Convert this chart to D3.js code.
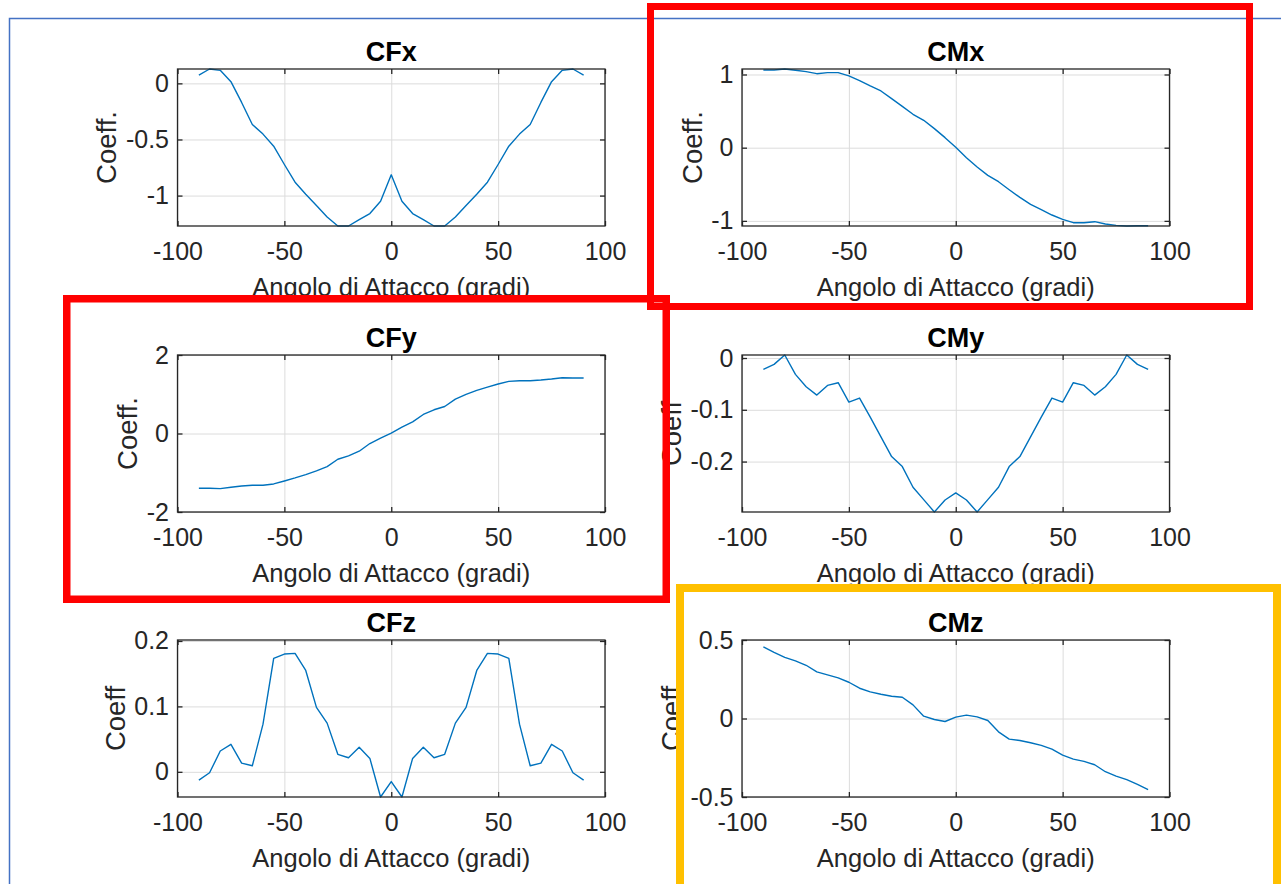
<!DOCTYPE html>
<html>
<head>
<meta charset="utf-8">
<script src="https://cdn.jsdelivr.net/npm/d3@7"></script>
<style>
  html, body { margin: 0; padding: 0; background: #fff; }
  svg { display: block; font-family: "Liberation Sans", Arial, sans-serif; }
</style>
</head>
<body>
<div id="fig"></div>
<script>
// Angle of attack (degrees) shared by all six coefficients
const angles = [-90, -85, -80, -75, -70, -65, -60, -55, -50, -45, -40, -35, -30, -25, -20, -15, -10, -5,
  0, 5, 10, 15, 20, 25, 30, 35, 40, 45, 50, 55, 60, 65, 70, 75, 80, 85, 90];

// Coefficient values
const cfx = [0.074, 0.128, 0.116, 0.015, -0.17, -0.366, -0.452, -0.56, -0.723, -0.881, -0.988, -1.089, -1.19, -1.271, -1.271, -1.214, -1.16, -1.05,
  -0.815, -1.05, -1.16, -1.214, -1.271, -1.271, -1.19, -1.089, -0.988, -0.881, -0.723, -0.56, -0.452, -0.366, -0.17, 0.015, 0.116, 0.128, 0.074];
const cmx = [1.062, 1.062, 1.075, 1.057, 1.039, 1.011, 1.025, 1.025, 0.98, 0.916, 0.843, 0.775, 0.67, 0.565, 0.456, 0.374, 0.26, 0.137,
  0.005, -0.137, -0.264, -0.378, -0.465, -0.574, -0.679, -0.775, -0.847, -0.92, -0.98, -1.025, -1.025, -1.011, -1.043, -1.062, -1.07, -1.066, -1.066];
const cfy = [-1.396, -1.396, -1.404, -1.37, -1.336, -1.319, -1.319, -1.285, -1.209, -1.132, -1.047, -0.953, -0.843, -0.655, -0.57, -0.451, -0.255, -0.119,
  0.009, 0.162, 0.298, 0.485, 0.604, 0.689, 0.877, 0.996, 1.098, 1.183, 1.26, 1.328, 1.345, 1.345, 1.362, 1.387, 1.421, 1.413, 1.413];
const cmy = [-0.0219, -0.0123, 0.0058, -0.0316, -0.0555, -0.0716, -0.0529, -0.0477, -0.0852, -0.0774, -0.1142, -0.1523, -0.1903, -0.2097, -0.2497, -0.2735, -0.2974, -0.2742,
  -0.2606, -0.2742, -0.2974, -0.2735, -0.2497, -0.2097, -0.1903, -0.1523, -0.1142, -0.0774, -0.0852, -0.0477, -0.0529, -0.0716, -0.0555, -0.0316, 0.0058, -0.0123, -0.0219];
const cfz = [-0.0128, -0.0015, 0.0318, 0.042, 0.0133, 0.0092, 0.0728, 0.1733, 0.18, 0.181, 0.1549, 0.0985, 0.0744, 0.0267, 0.0215, 0.0374, 0.0205, -0.0385,
  -0.0149, -0.0385, 0.0205, 0.0374, 0.0215, 0.0267, 0.0744, 0.0985, 0.1549, 0.181, 0.18, 0.1733, 0.0728, 0.0092, 0.0133, 0.042, 0.0318, -0.0015, -0.0128];
const cmz = [0.4555, 0.4216, 0.3898, 0.3665, 0.339, 0.2966, 0.2775, 0.2585, 0.2309, 0.1928, 0.1695, 0.1547, 0.142, 0.1356, 0.0869, 0.0148, -0.0064, -0.0191,
  0.0085, 0.0212, 0.0106, -0.0127, -0.0847, -0.1314, -0.1398, -0.1547, -0.1716, -0.1949, -0.2331, -0.2585, -0.2733, -0.2945, -0.339, -0.3665, -0.3898, -0.4195, -0.4534];

// Axis limits and ticks
const xLim = [-100, 100];
const xTicks = [-100, -50, 0, 50, 100];
const cfxLim = [-1.271, 0.128], cfxTicks = [-1, -0.5, 0];
const cmxLim = [-1.07, 1.075],  cmxTicks = [-1, 0, 1];
const cfyLim = [-2, 2],         cfyTicks = [-2, 0, 2];
const cmyLim = [-0.2974, 0.0058], cmyTicks = [-0.2, -0.1, 0];
const cfzLim = [-0.0385, 0.2015], cfzTicks = [0, 0.1, 0.2];
const cmzLim = [-0.5, 0.5],     cmzTicks = [-0.5, 0, 0.5];

const xLabel = "Angolo di Attacco (gradi)";

const panels = [
  { title: "CFx", values: cfx, lim: cfxLim, ticks: cfxTicks, ylabel: "Coeff.", col: 0, row: 0 },
  { title: "CMx", values: cmx, lim: cmxLim, ticks: cmxTicks, ylabel: "Coeff.", col: 1, row: 0 },
  { title: "CFy", values: cfy, lim: cfyLim, ticks: cfyTicks, ylabel: "Coeff.", col: 0, row: 1 },
  { title: "CMy", values: cmy, lim: cmyLim, ticks: cmyTicks, ylabel: "Coeff", col: 1, row: 1 },
  { title: "CFz", values: cfz, lim: cfzLim, ticks: cfzTicks, ylabel: "Coeff", col: 0, row: 2 },
  { title: "CMz", values: cmz, lim: cmzLim, ticks: cmzTicks, ylabel: "Coeff", col: 1, row: 2 }
];

// Layout
const width = 1281, height = 884;
const colX = [177.5, 742];
const rowY = [69, 355, 640];
const pw = 427.5, ph = 157;
const axisColor = "#262626";
const fmt = v => String(v);

const svg = d3.select("#fig").append("svg")
  .attr("width", width)
  .attr("height", height);

svg.append("rect").attr("width", width).attr("height", height).attr("fill", "#fff");

// Slide frame line (blue)
svg.append("path")
  .attr("d", `M9.5,${height} V18.5 H${width}`)
  .attr("fill", "none")
  .attr("stroke", "#4472C4")
  .attr("stroke-width", 1.5);

panels.forEach((p, i) => {
  const g = svg.append("g")
    .attr("transform", `translate(${colX[p.col]},${rowY[p.row]})`);

  const x = d3.scaleLinear().domain(xLim).range([0, pw]);
  const y = d3.scaleLinear().domain(p.lim).range([ph, 0]);

  // grid
  const gx = g.append("g").attr("transform", `translate(0,${ph})`)
    .call(d3.axisBottom(x).tickValues(xTicks).tickSize(-ph).tickFormat(""));
  const gy = g.append("g")
    .call(d3.axisLeft(y).tickValues(p.ticks).tickSize(-pw).tickFormat(""));
  [gx, gy].forEach(a => {
    a.select(".domain").remove();
    a.selectAll("line").attr("stroke", "#dcdcdc").attr("stroke-width", 1);
  });

  // data line
  const clipId = "clip" + i;
  g.append("clipPath").attr("id", clipId)
    .append("rect").attr("x", -1).attr("y", -1).attr("width", pw + 2).attr("height", ph + 2);

  const line = d3.line()
    .x((d, j) => x(angles[j]))
    .y(d => y(d));

  g.append("path")
    .datum(p.values)
    .attr("clip-path", `url(#${clipId})`)
    .attr("fill", "none")
    .attr("stroke", "#0072BD")
    .attr("stroke-width", 1.4)
    .attr("stroke-linejoin", "round")
    .attr("d", line);

  // axes with inward ticks on all four sides
  const bottom = g.append("g").attr("transform", `translate(0,${ph})`)
    .call(d3.axisBottom(x).tickValues(xTicks).tickSizeInner(-5).tickSizeOuter(0)
      .tickPadding(16.5).tickFormat(fmt));
  const top = g.append("g")
    .call(d3.axisTop(x).tickValues(xTicks).tickSizeInner(-5).tickSizeOuter(0).tickFormat(""));
  const left = g.append("g")
    .call(d3.axisLeft(y).tickValues(p.ticks).tickSizeInner(-5).tickSizeOuter(0)
      .tickPadding(8.5).tickFormat(fmt));
  const right = g.append("g").attr("transform", `translate(${pw},0)`)
    .call(d3.axisRight(y).tickValues(p.ticks).tickSizeInner(-5).tickSizeOuter(0).tickFormat(""));

  [bottom, top, left, right].forEach(a => {
    a.select(".domain").remove();
    a.selectAll("line").attr("stroke", axisColor).attr("stroke-width", 1.3);
    a.selectAll("text")
      .attr("fill", axisColor)
      .style("font-size", "25px")
      .style("font-family", '"Liberation Sans", Arial, sans-serif');
  });

  // box
  g.append("rect")
    .attr("width", pw).attr("height", ph)
    .attr("fill", "none")
    .attr("stroke", axisColor)
    .attr("stroke-width", 1.3);

  // title
  g.append("text")
    .attr("x", pw / 2).attr("y", -8.5)
    .attr("text-anchor", "middle")
    .attr("font-weight", "bold")
    .attr("font-size", 27)
    .attr("fill", "#000")
    .text(p.title);

  // x label
  g.append("text")
    .attr("x", pw / 2).attr("y", ph + 70)
    .attr("text-anchor", "middle")
    .attr("font-size", 25.5)
    .attr("fill", axisColor)
    .text(xLabel);

  // y label placed just left of the widest tick label
  let minX = 0;
  left.selectAll("text").each(function () {
    minX = Math.min(minX, this.getBBox().x);
  });
  g.append("text")
    .attr("transform", `translate(${minX - 9.5},${ph / 2}) rotate(-90)`)
    .attr("text-anchor", "middle")
    .attr("font-size", 27.5)
    .attr("fill", axisColor)
    .text(p.ylabel);
});

// Highlight boxes drawn over the figure
svg.append("rect")
  .attr("x", 650.5).attr("y", 6.5).attr("width", 599).attr("height", 300)
  .attr("fill", "none").attr("stroke", "#FF0000").attr("stroke-width", 7);
svg.append("rect")
  .attr("x", 66.75).attr("y", 298.75).attr("width", 599.5).attr("height", 300.5)
  .attr("fill", "none").attr("stroke", "#FF0000").attr("stroke-width", 7.5);
svg.append("rect")
  .attr("x", 680).attr("y", 588).attr("width", 597).attr("height", 320)
  .attr("fill", "none").attr("stroke", "#FFC000").attr("stroke-width", 8);
</script>
</body>
</html>
